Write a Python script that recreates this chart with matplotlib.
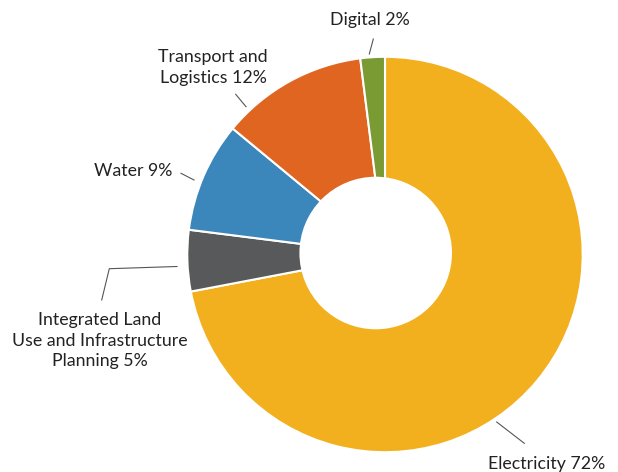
import matplotlib.pyplot as plt
from matplotlib.patches import Circle

# data
labels = ["Electricity", "Integrated Land\nUse and Infrastructure\nPlanning", "Water",
          "Transport and\nLogistics", "Digital"]
shares = [72, 5, 9, 12, 2]
colors = ["#F3B01E", "#58595B", "#3B86BA", "#E06521", "#7A9A33"]

plt.rcParams["font.family"] = ["Lato", "DejaVu Sans"]

W, H = 618, 472
fig = plt.figure(figsize=(W / 100, H / 100), dpi=100)
ax = fig.add_axes([0, 0, 1, 1])


def px(x, y):
    # pixel position (top-left origin) -> data coords
    return x, H - y


cx, cy = px(385, 254.5)
ax.pie(shares, colors=colors, startangle=90, counterclock=False,
       center=(cx, cy), radius=197.7,
       wedgeprops=dict(edgecolor="white", linewidth=1.5))
# hole (sits slightly left of the ring centre in the original)
ax.add_patch(Circle(px(375.7, 253), 76.3, facecolor="white", edgecolor="none", zorder=5))

ax.set_xlim(0, W)
ax.set_ylim(0, H)
ax.set_aspect("equal")
ax.axis("off")

# label text positions and leader lines (pixel coords)
label_pos = [(547, 464), (99.5, 340.5), (133, 171.5), (213, 67.5), (369.5, 20)]
leaders = [
    [(496.7, 422), (524.3, 443.3)],
    [(177, 266.5), (109.3, 268.7), (101.7, 300)],
    [(181, 173.3), (194, 180)],
    [(235.7, 94.3), (246, 106.7)],
    [(373.3, 39), (369.3, 54)],
]

for lab, v, pos, pts in zip(labels, shares, label_pos, leaders):
    x, y = px(*pos)
    ax.text(x, y, f"{lab} {v}%", ha="center", va="center", fontsize=12.8,
            color="#222222", linespacing=1.38)
    xs = [p[0] for p in pts]
    ys = [H - p[1] for p in pts]
    ax.plot(xs, ys, color="#555555", linewidth=0.8)

fig.savefig("out.png", dpi=100)
